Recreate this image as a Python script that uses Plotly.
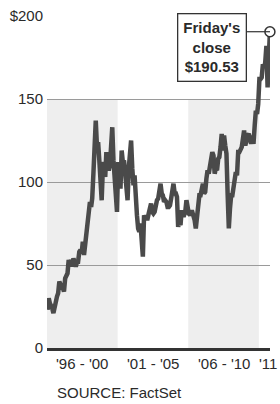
import pandas as pd
import plotly.graph_objects as go

# Monthly closing prices, Jan 1996 .. Sep 2011
closes = [
    23, 30, 27, 26, 24, 21, 25, 27, 31, 33, 40, 38,          # 1996
    39, 36, 34, 42, 43, 45, 53, 50, 53, 49, 54, 52,          # 1997
    49, 52, 52, 58, 59, 57, 64, 56, 62, 68, 76, 82,          # 1998
    88, 85, 90, 105, 118, 137, 122, 124, 113, 98, 89, 108,   # 1999
    112, 103, 118, 111, 107, 110, 127, 133, 113, 98, 92, 82, # 2000
    112, 98, 96, 119, 112, 113, 105, 100, 89, 108, 115, 125, # 2001
    108, 98, 104, 84, 80, 72, 70, 75, 58, 55, 80, 78,        # 2002
    78, 78, 81, 85, 87, 82, 81, 82, 88, 89, 90, 93,          # 2003
    99, 93, 92, 88, 89, 88, 85, 85, 86, 90, 94, 99,          # 2004
    93, 93, 91, 73, 76, 74, 83, 80, 80, 82, 89, 82,          # 2005
    81, 80, 82, 82, 80, 77, 72, 81, 82, 92, 92, 97,          # 2006
    99, 93, 94, 102, 107, 105, 111, 117, 118, 116, 105, 108, # 2007
    107, 114, 115, 121, 129, 119, 128, 122, 117, 93, 72, 84, # 2008
    92, 92, 97, 103, 106, 104, 118, 118, 120, 121, 126, 131, # 2009
    122, 127, 128, 129, 126, 123, 128, 123, 134, 143, 141, 147, # 2010
    162, 162, 163, 171, 169, 172, 182, 157, 175,             # 2011
]
first_month = "1996-01-01"
last_date = "2011-10-14"
last_close = 190.53

band_periods = [("1996-01-01", "2001-01-01"), ("2006-01-01", "2011-01-01")]
period_labels = ["'96 - '00", "'01 - '05", "'06 - '10", "'11"]
period_label_x = ["1998-07-01", "2003-07-01", "2008-07-01", "2011-09-01"]
y_tickvals = [0, 50, 100, 150, 200]
y_ticktext = ["0", "50", "100", "150", "$200"]
source_text = "SOURCE: FactSet"
callout_text = "<b>Friday's<br>close<br>$190.53</b>"

dates = list(pd.date_range(first_month, periods=len(closes), freq="MS") + pd.Timedelta(days=14))
dates.append(pd.Timestamp(last_date))
values = closes + [last_close]

FONT = "Liberation Sans, Arial, sans-serif"
TXT = "#2a2a2a"

fig = go.Figure()

for x0, x1 in band_periods:
    fig.add_shape(type="rect", xref="x", yref="y", x0=x0, x1=x1, y0=0, y1=150,
                  fillcolor="#eeeeee", line_width=0, layer="below")

fig.add_trace(go.Scatter(
    x=dates, y=values, mode="lines",
    line=dict(color="#4a4a4a", width=4.5),
    cliponaxis=False, hoverinfo="skip", showlegend=False,
))

# connector from callout box to final point
fig.add_shape(type="line", xref="paper", yref="y", x0=0.897, x1=1.0,
              y0=last_close, y1=last_close, line=dict(color="#333333", width=1.2))

fig.add_trace(go.Scatter(
    x=[pd.Timestamp(last_date)], y=[last_close], mode="markers",
    marker=dict(size=10, color="white", line=dict(color="#333333", width=1.5)),
    cliponaxis=False, hoverinfo="skip", showlegend=False,
))

fig.add_annotation(
    text=callout_text, xref="paper", yref="paper", x=0.740, y=0.905,
    xanchor="center", yanchor="middle", showarrow=False,
    font=dict(family=FONT, size=15, color=TXT),
    bgcolor="white", bordercolor="#333333", borderwidth=1.3, borderpad=5,
)

for lbl, lx in zip(period_labels, period_label_x):
    fig.add_annotation(text=lbl, x=lx, xref="x", y=0, yref="paper",
                       xanchor="center", yanchor="top", yshift=-5, showarrow=False,
                       font=dict(family=FONT, size=15, color=TXT))

fig.add_annotation(text=source_text, x=(55 - 47) / 223, xref="paper", y=0, yref="paper",
                   xanchor="left", yanchor="middle", yshift=-44, showarrow=False,
                   font=dict(family=FONT, size=15, color=TXT))

fig.update_layout(
    width=280, height=404,
    margin=dict(l=47, r=10, t=16, b=56),
    paper_bgcolor="white", plot_bgcolor="white",
    xaxis=dict(type="date", range=["1996-01-01", "2011-10-16"],
               showgrid=False, showticklabels=False, ticks="",
               showline=True, linecolor="#333333", linewidth=2.5, zeroline=False,
               fixedrange=True),
    yaxis=dict(range=[0, 200], tickvals=y_tickvals, ticktext=y_ticktext,
               showgrid=True, gridcolor="#9a9a9a", gridwidth=1,
               zeroline=False, showline=False, ticks="",
               tickfont=dict(family=FONT, size=15, color=TXT),
               ticklabelstandoff=3, ticklabeloverflow="allow",
               fixedrange=True, automargin=False),
    showlegend=False,
)

fig.write_html(
    "out.html",
    config={"displayModeBar": False, "staticPlot": True},
    post_script="document.body.style.margin='0';document.body.style.overflow='hidden';",
)
